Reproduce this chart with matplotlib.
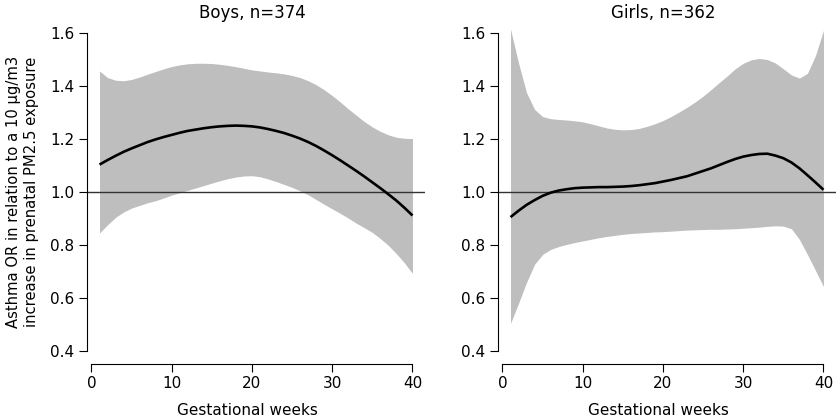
import matplotlib
matplotlib.use("Agg")
import matplotlib.pyplot as plt

# gestational weeks
weeks = list(range(1, 41))

# boys, n=374 : OR estimate and 95% band
boys_or = [1.104, 1.121, 1.137, 1.152, 1.165, 1.177, 1.189, 1.199, 1.208, 1.216,
           1.224, 1.231, 1.236, 1.241, 1.245, 1.248, 1.250, 1.251, 1.250, 1.248,
           1.244, 1.238, 1.231, 1.223, 1.213, 1.202, 1.189, 1.174, 1.157, 1.139,
           1.120, 1.100, 1.080, 1.059, 1.037, 1.015, 0.992, 0.968, 0.941, 0.912]
boys_hi = [1.457, 1.432, 1.422, 1.420, 1.425, 1.434, 1.445, 1.455, 1.465, 1.474,
           1.480, 1.484, 1.486, 1.486, 1.485, 1.482, 1.478, 1.473, 1.467, 1.461,
           1.457, 1.453, 1.450, 1.446, 1.440, 1.432, 1.420, 1.405, 1.386, 1.364,
           1.340, 1.314, 1.290, 1.266, 1.246, 1.229, 1.216, 1.207, 1.203, 1.202]
boys_lo = [0.846, 0.877, 0.905, 0.925, 0.940, 0.950, 0.960, 0.968, 0.978, 0.989,
           0.998, 1.007, 1.016, 1.025, 1.034, 1.043, 1.051, 1.057, 1.061, 1.062,
           1.058, 1.050, 1.040, 1.029, 1.018, 1.005, 0.990, 0.972, 0.954, 0.937,
           0.920, 0.902, 0.883, 0.866, 0.848, 0.825, 0.799, 0.768, 0.733, 0.694]

# girls, n=362
girls_or = [0.906, 0.930, 0.952, 0.970, 0.986, 0.998, 1.006, 1.011, 1.015, 1.017,
            1.018, 1.019, 1.019, 1.020, 1.021, 1.023, 1.026, 1.030, 1.034, 1.040,
            1.046, 1.053, 1.060, 1.070, 1.080, 1.090, 1.102, 1.114, 1.125, 1.134,
            1.140, 1.144, 1.145, 1.138, 1.128, 1.112, 1.090, 1.064, 1.037, 1.009]
girls_hi = [1.615, 1.487, 1.375, 1.312, 1.285, 1.277, 1.274, 1.272, 1.269, 1.265,
            1.258, 1.250, 1.242, 1.237, 1.235, 1.236, 1.240, 1.248, 1.258, 1.270,
            1.285, 1.302, 1.320, 1.340, 1.362, 1.387, 1.413, 1.438, 1.465, 1.486,
            1.499, 1.504, 1.500, 1.487, 1.465, 1.442, 1.430, 1.448, 1.515, 1.610]
girls_lo = [0.505, 0.581, 0.660, 0.728, 0.765, 0.784, 0.795, 0.803, 0.810, 0.816,
            0.822, 0.828, 0.833, 0.837, 0.841, 0.844, 0.846, 0.848, 0.850, 0.851,
            0.853, 0.855, 0.857, 0.858, 0.859, 0.860, 0.860, 0.861, 0.862, 0.864,
            0.866, 0.868, 0.871, 0.873, 0.872, 0.862, 0.822, 0.765, 0.705, 0.644]

titles = ["Boys, n=374", "Girls, n=362"]
x_ticks = [0, 10, 20, 30, 40]
y_ticks = [0.4, 0.6, 0.8, 1.0, 1.2, 1.4, 1.6]

plt.rcParams['font.family'] = ['DejaVu Sans']

W, H = 840, 420
fig = plt.figure(figsize=(8.4, 4.2), dpi=100)

panels = [
    (87, titles[0], boys_or, boys_lo, boys_hi),
    (498, titles[1], girls_or, girls_lo, girls_hi),
]

for left_px, title, est, lo, hi in panels:
    ax = fig.add_axes([left_px / W, 56 / H, 338 / W, 343.7 / H])
    ax.fill_between(weeks, lo, hi, color='#bebebe', linewidth=0)
    ax.axhline(1.0, color='#333333', linewidth=1.0)
    ax.plot(weeks, est, color='black', linewidth=1.9, solid_capstyle='butt')

    ax.set_xlim(-0.56, 41.56)
    ax.set_ylim(0.352, 1.648)
    ax.set_xticks(x_ticks)
    ax.set_xticklabels([str(t) for t in x_ticks])
    ax.set_yticks(y_ticks)
    ax.set_yticklabels([f"{t:.1f}" for t in y_ticks])

    for s in ['top', 'right']:
        ax.spines[s].set_visible(False)
    ax.spines['left'].set_bounds(0.4, 1.6)
    ax.spines['bottom'].set_bounds(0, 40)
    for s in ['left', 'bottom']:
        ax.spines[s].set_linewidth(0.8)
    ax.tick_params(direction='out', length=5.5, width=0.8, labelsize=11)
    ax.tick_params(axis='y', pad=3.5)
    ax.tick_params(axis='x', pad=3)

    ax.text(0.488, 1.007, title, transform=ax.transAxes, ha='center',
            va='baseline', fontsize=12)
    ax.text(0.475, -0.134, "Gestational weeks", transform=ax.transAxes,
            ha='center', va='center', fontsize=11)

fig.text(22.5 / W, 1 - 192 / H,
         "Asthma OR in relation to a 10 µg/m3\nincrease in prenatal PM2.5 exposure",
         rotation=90, ha='center', va='center', multialignment='center',
         fontsize=10.6, linespacing=1.3)

fig.savefig("out.png", dpi=100)
